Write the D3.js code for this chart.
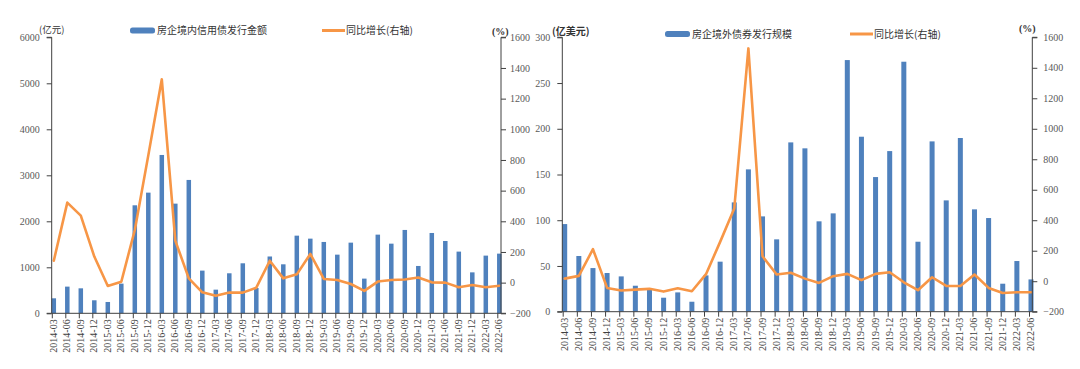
<!DOCTYPE html>
<html><head><meta charset="utf-8">
<script src="https://cdn.jsdelivr.net/npm/d3@7"></script>
<style>
html,body{margin:0;padding:0;background:#fff;}
svg{display:block;}
</style></head>
<body>
<svg id="c" width="1080" height="369"></svg>
<script>
// ---------- data ----------
const categories = ["2014-03","2014-06","2014-09","2014-12","2015-03","2015-06","2015-09","2015-12",
"2016-03","2016-06","2016-09","2016-12","2017-03","2017-06","2017-09","2017-12",
"2018-03","2018-06","2018-09","2018-12","2019-03","2019-06","2019-09","2019-12",
"2020-03","2020-06","2020-09","2020-12","2021-03","2021-06","2021-09","2021-12",
"2022-03","2022-06"];

// left chart: domestic credit bond issuance (亿元) and YoY (%)
const domesticIssuance = [326,580,543,283,246,645,2348,2623,3442,2384,2899,928,514,870,1087,550,
1235,1065,1688,1623,1551,1275,1536,754,1710,1514,1812,1029,1746,1572,1341,890,1254,1297];
const domesticYoY = [143,522,437,170,-22,6,343,830,1326,274,28,-63,-85,-65,-65,-33,
143,28,54,187,24,17,-9,-54,7,17,20,33,2,0,-30,-15,-30,-20];

// right chart: overseas bond issuance (亿美元) and YoY (%)
const overseasIssuance = [95.8,60.9,47.7,42.3,38.6,28.4,25.1,15.3,21.1,10.9,39.7,54.7,119.5,155.6,104.2,79.1,
185.1,178.6,98.8,107.5,275.1,191.3,147.2,175.6,273.3,76.5,186.2,121.7,189.9,111.9,102.4,30.6,55.4,35.3];
const overseasYoY = [17,35,210,-44,-61,-55,-50,-68,-46,-66,46,258,477,1527,164,44,
55,17,-11,33,48,7,48,59,-7,-59,26,-31,-31,44,-44,-77,-72,-72];

const leftTicksDomestic = [0,1000,2000,3000,4000,5000,6000];
const leftTicksOverseas = [0,50,100,150,200,250,300];
const rightTicks = [-200,0,200,400,600,800,1000,1200,1400,1600];

const titlesDomestic = {unit:"(亿元)", bar:"房企境内信用债发行金额", line:"同比增长(右轴)"};
const titlesOverseas = {unit:"(亿美元)", bar:"房企境外债券发行规模", line:"同比增长(右轴)"};

// ---------- drawing ----------
const svg = d3.select("#c");
const BAR = "#4F81BD", LINE = "#F79646", AXIS = "#404040", LBL = "#595959";
const NUMFONT = "'Liberation Serif','Times New Roman',serif";
const CJK = "'Noto Sans CJK SC','Noto Sans',sans-serif";

function drawChart(o){
  const g = svg.append("g");
  const x = d3.scalePoint().domain(categories).range([o.x0, o.x1]);
  const yL = d3.scaleLinear().domain([0, d3.max(o.lTicks)]).range([o.yb, o.yt]);
  const yR = d3.scaleLinear().domain([-200,1600]).range([o.yb, o.yt]);

  // bars
  g.selectAll("rect.bar").data(o.bars).join("rect")
    .attr("x",(d,i)=>x(categories[i]) - o.bw/2)
    .attr("y",d=>yL(d))
    .attr("width",o.bw)
    .attr("height",d=>yL(0)-yL(d))
    .attr("fill",BAR);

  // line
  const line = d3.line().x((d,i)=>x(categories[i])).y(d=>yR(d));
  g.append("path").datum(o.yoy)
    .attr("d",line).attr("fill","none").attr("stroke",LINE)
    .attr("stroke-width",2.6).attr("stroke-linejoin","round").attr("stroke-linecap","round");

  // left axis
  const la = g.append("g").attr("transform",`translate(${o.axL},0)`)
    .call(d3.axisLeft(yL).tickValues(o.lTicks).tickSize(5).tickPadding(o.lPad).tickFormat(d3.format("d")));
  la.select(".domain").attr("stroke",AXIS).attr("d",`M-5,${o.yt}H0V${o.yb}H-5`);
  la.selectAll(".tick line").attr("stroke",AXIS);
  la.selectAll("text").attr("font-family",NUMFONT).attr("font-size",10).attr("fill",LBL);

  // right axis
  const ra = g.append("g").attr("transform",`translate(${o.axR},0)`)
    .call(d3.axisRight(yR).tickValues(rightTicks).tickSize(5).tickPadding(o.rPad).tickFormat(d3.format("d")));
  ra.select(".domain").attr("stroke",AXIS).attr("d",`M5,${o.yt}H0V${o.yb}H5`);
  ra.selectAll(".tick line").attr("stroke",AXIS);
  ra.selectAll("text").attr("font-family",NUMFONT).attr("font-size",10).attr("fill",LBL);

  // bottom axis
  const ba = g.append("g").attr("transform",`translate(${-o.tickShift},${o.yb})`)
    .call(d3.axisBottom(x).tickSize(5).tickPadding(4));
  ba.select(".domain").remove();
  ba.selectAll(".tick line").attr("stroke",AXIS);
  ba.selectAll("text")
    .attr("font-family",NUMFONT).attr("font-size",10).attr("fill",AXIS)
    .attr("transform","rotate(-90)")
    .attr("text-anchor","end")
    .attr("x",-6).attr("y",o.tickShift-1).attr("dy","0.35em");
  g.append("line").attr("x1",o.axL).attr("x2",o.axR).attr("y1",o.yb).attr("y2",o.yb)
    .attr("stroke",AXIS);

  // unit labels
  g.append("text").attr("x",o.unitX).attr("y",o.unitY).text(o.t.unit)
    .attr("font-family",CJK).attr("font-size",o.unitSize).attr("font-weight",o.unitWeight).attr("fill","#333");
  g.append("text").attr("x",o.pctX).attr("y",o.pctY).text("(%)")
    .attr("font-family",NUMFONT).attr("font-size",10).attr("font-weight","bold").attr("fill","#333");

  // legend
  g.append("rect").attr("x",o.legX).attr("y",o.legY-3).attr("width",25).attr("height",6)
    .attr("rx",2.5).attr("fill",BAR);
  g.append("text").attr("x",o.legX+27).attr("y",o.legY).attr("dy","0.35em").text(o.t.bar)
    .attr("font-family",CJK).attr("font-size",10).attr("fill","#333");
  g.append("line").attr("x1",o.leg2X).attr("x2",o.leg2X+23).attr("y1",o.legY).attr("y2",o.legY)
    .attr("stroke",LINE).attr("stroke-width",3);
  g.append("text").attr("x",o.leg2X+24).attr("y",o.legY).attr("dy","0.35em").text(o.t.line)
    .attr("font-family",CJK).attr("font-size",10).attr("fill","#333");
}

drawChart({
  bars:domesticIssuance, yoy:domesticYoY, lTicks:leftTicksDomestic, t:titlesDomestic,
  x0:53.8, x1:499.3, axL:51.7, axR:501, yt:37.3, yb:313.3, bw:4.5, tickShift:2,
  lPad:7, rPad:4,
  unitX:39, unitY:33, unitSize:9.5, unitWeight:"normal", pctX:492, pctY:35,
  legX:130, legY:30.5, leg2X:322
});
drawChart({
  bars:overseasIssuance, yoy:overseasYoY, lTicks:leftTicksOverseas, t:titlesOverseas,
  x0:564.7, x1:1031, axL:562.3, axR:1032.3, yt:37.3, yb:311.7, bw:5, tickShift:2,
  lPad:7, rPad:6,
  unitX:552, unitY:35, unitSize:10, unitWeight:"bold", pctX:1019, pctY:32,
  legX:665, legY:34, leg2X:850
});
</script>
</body></html>
